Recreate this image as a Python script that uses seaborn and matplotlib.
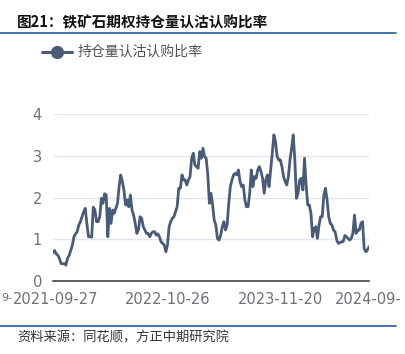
import pandas as pd
import numpy as np
import matplotlib
matplotlib.use("Agg")
import matplotlib.pyplot as plt
import matplotlib.transforms as mtransforms
import seaborn as sns

# ratio values, in time order
ratio_part1 = [0.68, 0.73, 0.65, 0.62, 0.54, 0.42, 0.41, 0.42, 0.38, 0.54, 0.61, 0.73, 0.86, 1.06, 1.13,
               1.18, 1.34, 1.42, 1.54, 1.66, 1.74, 1.38, 1.06, 1.06, 1.05, 1.77, 1.70, 1.42, 1.42, 1.54,
               1.98, 1.86, 2.09, 2.06, 1.06, 1.74, 1.38, 1.70, 1.62, 1.74, 1.86, 2.26, 2.54, 2.38, 2.18,
               1.82, 1.94, 1.78, 2.06, 1.70, 1.58, 1.38, 1.14, 1.22, 1.54, 1.50, 1.30, 1.22, 1.14, 1.14,
               1.06, 1.14, 1.18, 1.18, 1.10, 1.13, 1.06, 0.94, 0.90, 0.86, 0.70, 0.86, 1.30, 1.42, 1.50,
               1.54, 1.66, 1.78, 2.22, 2.22, 2.54, 2.42, 2.42, 2.30, 2.42, 2.50, 2.94, 3.06, 2.78, 2.74]
ratio_part2 = [2.70, 3.10, 2.94, 3.18, 2.98, 2.94, 2.55, 1.86, 2.10, 1.82, 1.46, 1.34, 1.02, 0.98, 1.10,
               1.30, 1.42, 1.22, 1.34, 1.86, 2.26, 2.42, 2.54, 2.58, 2.54, 2.66, 2.38, 2.26, 2.30, 1.94,
               1.78, 1.78, 2.10, 2.66, 2.26, 2.50, 2.46, 2.66, 2.74, 2.62, 2.46, 2.10, 2.42, 2.54, 2.26,
               2.66, 3.06, 3.50, 3.34, 2.98, 2.90, 2.90, 2.74, 2.50, 2.38, 2.30, 2.50, 2.90, 3.18, 3.50,
               2.90, 1.98, 2.10, 2.42, 2.46, 2.18, 2.94, 2.30, 1.82, 1.82, 1.62, 1.06, 1.26, 1.30, 1.02,
               1.34, 1.54, 1.54, 2.06, 2.22, 1.94, 1.54, 1.38, 1.34, 1.22, 1.18, 0.98, 0.90, 0.92, 0.94,
               0.94, 1.09, 1.06, 1.02, 0.98, 1.02, 1.14, 1.58, 1.14, 1.22, 1.22, 1.38, 1.42, 0.78, 0.70,
               0.74, 0.82]
ratio = ratio_part1 + ratio_part2

start_date = "2021-09-27"
end_date = "2024-09-20"
tick_dates = ["2021-09-27", "2022-10-26", "2023-11-20", "2024-09-20"]
tick_labels = ["2021-09-27", "2022-10-26", "2023-11-20", "2024-09-"]
y_ticks = [0, 1, 2, 3, 4]
title = "图21：铁矿石期权持仓量认沽认购比率"
series_name = "持仓量认沽认购比率"
source = "资料来源：同花顺，方正中期研究院"

dates = pd.date_range(start_date, end_date, periods=len(ratio))
df = pd.DataFrame({"date": dates, series_name: ratio})

sns.set_style("white")
plt.rcParams["font.family"] = ["Noto Sans CJK SC", "DejaVu Sans"]

line_color = "#4a5b78"
label_color = "#6e7079"
rule_color = "#1f5c93"

fig = plt.figure(figsize=(4.05, 3.54), dpi=100)
ax = fig.add_axes([53 / 405, 73 / 354, 316 / 405, 167 / 354])

sns.lineplot(data=df, x="date", y=series_name, ax=ax, color=line_color, linewidth=2.0, legend=False)

ax.set_xlim(pd.Timestamp(start_date), pd.Timestamp(end_date))
ax.set_ylim(0, 4)
ax.set_yticks(y_ticks)
ax.set_yticklabels([str(v) for v in y_ticks], color=label_color, fontsize=10.5, family="DejaVu Sans")
ax.set_xticks([pd.Timestamp(d) for d in tick_dates])
ax.set_xticklabels(tick_labels, color=label_color, fontsize=10.5, family="DejaVu Sans")
ax.set_xlabel("")
ax.set_ylabel("")
ax.grid(axis="y", color="#e0e6f1", linewidth=1)
ax.grid(axis="x", visible=False)
for side in ["top", "right", "left"]:
    ax.spines[side].set_visible(False)
ax.spines["bottom"].set_color("#444444")
ax.spines["bottom"].set_linewidth(1.2)
ax.tick_params(axis="x", direction="out", length=5, width=1.2, color="#444444", pad=3)
ax.tick_params(axis="y", length=0, pad=8)

xlabels = ax.get_xticklabels()
# first label sits a little right of its tick in the original
xlabels[0].set_transform(xlabels[0].get_transform() + mtransforms.ScaledTranslation(3 / 100, 0, fig.dpi_scale_trans))
# last label is cut short in the original: show its visible part
xlabels[-1].set_horizontalalignment("left")
xlabels[-1].set_transform(xlabels[-1].get_transform() + mtransforms.ScaledTranslation(-34 / 100, 0, fig.dpi_scale_trans))

# stray label fragment at the left edge
fig.text(1 / 405, (354 - 298) / 354, "9-", color=label_color, fontsize=8, family="DejaVu Sans", va="center", ha="left")

# title and rules
fig.text(17 / 405, 1 - 22 / 354, title, fontsize=10.5, fontweight="bold", color="#111111", va="center", ha="left")
fig.add_artist(plt.Line2D([0, 396 / 405], [1 - 33 / 354] * 2, color=rule_color, linewidth=1.2))
fig.add_artist(plt.Line2D([0, 396 / 405], [1 - 326 / 354] * 2, color=rule_color, linewidth=1.2))

# legend
ly = 1 - 52 / 354
fig.add_artist(plt.Line2D([42 / 405, 72 / 405], [ly, ly], color=line_color, linewidth=2.2))
fig.add_artist(plt.Line2D([57 / 405], [ly], color=line_color, marker="o", markersize=8.5))
fig.text(78 / 405, ly, series_name, fontsize=10, color="#555555", va="center", ha="left")

fig.text(17 / 405, 1 - 338 / 354, source, fontsize=9.5, color="#333333", va="center", ha="left", style="italic")

fig.savefig("out.png", dpi=100)
